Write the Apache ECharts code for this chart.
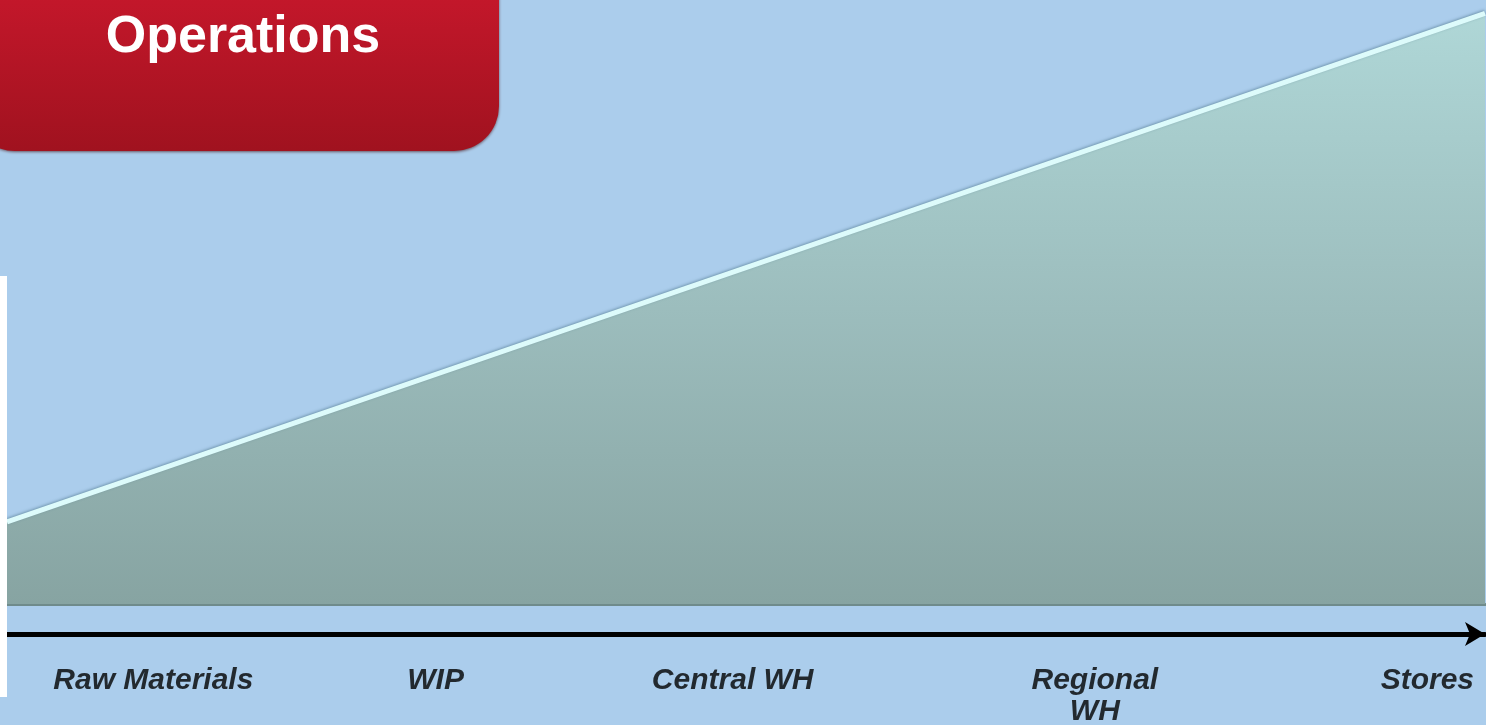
<!DOCTYPE html>
<html>
<head>
<meta charset="utf-8">
<script src="https://cdn.jsdelivr.net/npm/echarts@6/dist/echarts.min.js"></script>
<style>
html,body{margin:0;padding:0;background:#ABCDEC;}
#c{width:1486px;height:725px;}
</style>
</head>
<body>
<div id="c"></div>
<script>
// Data
var titleText = 'Operations';
var stages = ['Raw Materials', 'WIP', 'Central WH', 'Regional\nWH', 'Stores'];
var stageX = [9.9, 29.0, 49.1, 73.6, 96.1];   // label positions along the flow (0-100)
var areaX = [0, 100];
var areaY = [13.6, 97.8];                       // rising level, left to right
var labelY = -10.1;

var chart = echarts.init(document.getElementById('c'), null, {renderer: 'canvas'});

var areaData = areaX.map(function (x, i) { return [x, areaY[i]]; });
var labelData = stages.map(function (s, i) { return {name: s, value: [stageX[i], labelY]}; });

var option = {
  backgroundColor: '#ABCDEC',
  animation: false,
  grid: {left: 7, right: 1, top: 0, bottom: 121, containLabel: false},
  xAxis: [
    {type: 'value', min: 0, max: 100, show: true,
     axisLine: {show: true, onZero: false, lineStyle: {color: '#6F8B8B', width: 3}},
     axisTick: {show: false}, axisLabel: {show: false}, splitLine: {show: false}},
    {type: 'value', min: 0, max: 100, position: 'bottom', offset: 30,
     axisLine: {show: true, onZero: false, lineStyle: {color: '#000', width: 5},
                symbol: ['none', 'arrow'], symbolSize: [18, 20]},
     axisTick: {show: false}, axisLabel: {show: false}, splitLine: {show: false}}
  ],
  yAxis: {type: 'value', min: 0, max: 100, show: false},
  series: [
    {type: 'line', data: areaData, symbol: 'none', z: 2,
     lineStyle: {width: 5, color: '#DDFBFB', shadowColor: 'rgba(70,110,130,0.6)', shadowBlur: 3, shadowOffsetY: -1},
     areaStyle: {opacity: 1, color: new echarts.graphic.LinearGradient(0, 0, 0, 1, [
       {offset: 0, color: '#AFD7D7'},
       {offset: 0.5, color: '#9CBDBD'},
       {offset: 1, color: '#87A4A2'}
     ])}},
    {type: 'scatter', data: labelData, symbolSize: 0, clip: false, z: 5,
     label: {show: true, position: 'bottom', distance: 0, formatter: '{b}',
             color: '#000', fontFamily: 'Liberation Sans, Arial, sans-serif',
             fontWeight: 'bold', fontStyle: 'italic', fontSize: 30, lineHeight: 31, align: 'center'}}
  ],
  graphic: [
    {type: 'rect', z: 10, shape: {x: -30, y: -60, width: 529, height: 211, r: 45},
     style: {fill: new echarts.graphic.LinearGradient(0, 0, 0, 1, [
       {offset: 0, color: '#CC1A2C'},
       {offset: 0.3, color: '#C2172A'},
       {offset: 1, color: '#A0121F'}
     ]), shadowColor: 'rgba(60,0,0,0.6)', shadowBlur: 3, shadowOffsetY: 1}},
    {type: 'text', z: 11, x: 243, y: 12,
     style: {text: titleText, fill: '#fff', font: 'bold 52px "Liberation Sans", Arial, sans-serif',
             align: 'center', verticalAlign: 'top'}},
    {type: 'rect', z: 10, shape: {x: 0, y: 276, width: 7, height: 421}, style: {fill: '#FFFFFF'}}
  ]
};
chart.setOption(option);
</script>
</body>
</html>
